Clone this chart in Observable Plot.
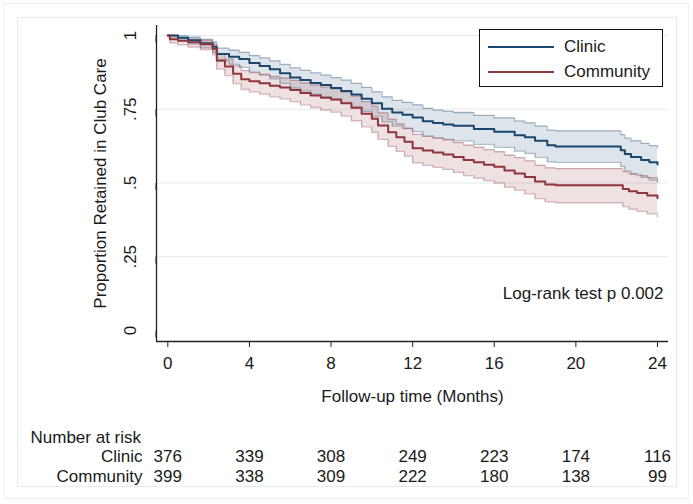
<!DOCTYPE html>
<html>
<head>
<meta charset="utf-8">
<script src="https://cdn.jsdelivr.net/npm/d3@7"></script>
<script src="https://cdn.jsdelivr.net/npm/@observablehq/plot@0.6"></script>
<style>
  html, body { margin: 0; padding: 0; background: #fff; }
  #wrap { position: relative; width: 693px; height: 504px; overflow: hidden; font-family: "Liberation Sans", Arial, sans-serif; color: #1a1a1a; }
  #outer { position: absolute; left: 3px; top: 3px; width: 686px; height: 496px; border: 1px solid #eef2f3; box-sizing: border-box; }
  #inner { position: absolute; left: 17px; top: 17px; width: 660px; height: 470px; border: 1px solid #e6ecee; box-sizing: border-box; }
  #chart { position: absolute; left: 0; top: 0; }
  #legend { position: absolute; left: 479px; top: 29px; width: 184px; height: 58px; border: 1px solid #111; box-sizing: border-box; background: #fff; }
  .lg-line { position: absolute; left: 8px; width: 66px; height: 2px; }
  .lg-text { position: absolute; left: 84px; font-size: 17px; line-height: 20px; }
</style>
</head>
<body>
<div id="wrap">
  <div id="outer"></div>
  <div id="inner"></div>
  <div id="chart"></div>
  <div id="legend"></div>
</div>
<script>
// ---- Data ----
const seriesNames = ["Clinic", "Community"];
const seriesColors = ["#1a476f", "#90353b"];

// Clinic Kaplan-Meier estimate with 95% CI (step points)
const clinicT  = [0, 0.5, 1.0, 1.6, 2.2, 2.4, 3.0, 3.5, 4.0, 4.5, 5.0, 5.5, 6.0, 6.5, 7.0, 7.5, 8.0, 8.5, 9.0, 9.5, 10.0, 10.5, 11.0, 11.5, 12.0, 12.5, 13.0, 13.5, 14.0, 15.0, 16.0, 17.0, 17.5, 18.0, 18.6, 19.0, 22.2, 22.4, 22.7, 23.2, 23.6, 24.0];
const clinicS  = [1, 0.992, 0.984, 0.974, 0.962, 0.937, 0.928, 0.920, 0.907, 0.897, 0.886, 0.872, 0.858, 0.849, 0.839, 0.832, 0.822, 0.812, 0.800, 0.786, 0.770, 0.752, 0.739, 0.731, 0.722, 0.709, 0.703, 0.698, 0.694, 0.683, 0.674, 0.662, 0.655, 0.643, 0.628, 0.624, 0.611, 0.598, 0.588, 0.578, 0.570, 0.563];
const clinicLo = [1, 0.982, 0.971, 0.958, 0.943, 0.913, 0.902, 0.892, 0.877, 0.866, 0.853, 0.838, 0.822, 0.812, 0.801, 0.793, 0.782, 0.771, 0.758, 0.743, 0.726, 0.707, 0.693, 0.684, 0.674, 0.660, 0.653, 0.648, 0.643, 0.631, 0.621, 0.608, 0.600, 0.587, 0.572, 0.570, 0.556, 0.541, 0.530, 0.519, 0.510, 0.502];
const clinicHi = [1, 0.999, 0.994, 0.987, 0.978, 0.957, 0.950, 0.943, 0.932, 0.924, 0.914, 0.902, 0.890, 0.882, 0.873, 0.866, 0.857, 0.849, 0.838, 0.824, 0.809, 0.792, 0.780, 0.773, 0.765, 0.753, 0.747, 0.743, 0.739, 0.729, 0.721, 0.710, 0.704, 0.693, 0.679, 0.677, 0.664, 0.652, 0.643, 0.634, 0.627, 0.619];

// Community Kaplan-Meier estimate with 95% CI (step points)
const commT  = [0, 0.1, 0.5, 1.0, 1.6, 2.2, 2.4, 2.8, 3.2, 3.6, 4.0, 4.5, 5.0, 5.5, 6.0, 6.5, 7.0, 7.5, 8.0, 8.5, 9.0, 9.5, 10.0, 10.3, 10.8, 11.2, 11.6, 12.0, 12.5, 13.0, 13.5, 14.0, 14.5, 15.0, 15.5, 16.0, 16.5, 17.0, 17.5, 18.0, 18.5, 19.0, 22.3, 22.6, 23.0, 23.5, 24.0];
const commS  = [1, 0.987, 0.982, 0.977, 0.970, 0.955, 0.915, 0.895, 0.870, 0.852, 0.845, 0.838, 0.830, 0.824, 0.815, 0.805, 0.797, 0.789, 0.783, 0.770, 0.755, 0.735, 0.718, 0.695, 0.672, 0.655, 0.640, 0.618, 0.610, 0.603, 0.597, 0.588, 0.578, 0.570, 0.562, 0.555, 0.542, 0.532, 0.520, 0.505, 0.495, 0.492, 0.480, 0.472, 0.466, 0.458, 0.448];
const commLo = [1, 0.975, 0.968, 0.961, 0.952, 0.934, 0.886, 0.864, 0.837, 0.817, 0.809, 0.801, 0.792, 0.785, 0.776, 0.765, 0.756, 0.747, 0.740, 0.727, 0.711, 0.690, 0.672, 0.648, 0.624, 0.607, 0.591, 0.568, 0.560, 0.553, 0.546, 0.536, 0.525, 0.517, 0.508, 0.500, 0.486, 0.476, 0.463, 0.447, 0.436, 0.433, 0.420, 0.411, 0.404, 0.395, 0.385];
const commHi = [1, 0.995, 0.992, 0.988, 0.983, 0.970, 0.937, 0.920, 0.897, 0.881, 0.874, 0.868, 0.861, 0.856, 0.848, 0.839, 0.832, 0.825, 0.819, 0.808, 0.795, 0.776, 0.760, 0.738, 0.716, 0.700, 0.686, 0.665, 0.658, 0.652, 0.646, 0.637, 0.628, 0.621, 0.613, 0.606, 0.594, 0.586, 0.575, 0.560, 0.551, 0.549, 0.538, 0.531, 0.525, 0.518, 0.508];

// Axes and number-at-risk table
const xTicks = [0, 4, 8, 12, 16, 20, 24];
const yTicks = [0, 0.25, 0.5, 0.75, 1];
const yTickLabels = ["0", ".25", ".5", ".75", "1"];
const riskTimes = [0, 4, 8, 12, 16, 20, 24];
const clinicRisk = [376, 339, 308, 249, 223, 174, 116];
const communityRisk = [399, 338, 309, 222, 180, 138, 99];
const xTitle = "Follow-up time (Months)";
const yTitle = "Proportion Retained in Club Care";
const testNote = "Log-rank test p 0.002";
const riskTitle = "Number at risk";

// ---- Build tables ----
const clinic = clinicT.map((t, i) => ({t, s: clinicS[i], lo: clinicLo[i], hi: clinicHi[i]}));
const community = commT.map((t, i) => ({t, s: commS[i], lo: commLo[i], hi: commHi[i]}));

const xDomain = [-0.554, 24.54];
const yDomain = [-0.0373, 1.0339];
const FS = 17;
const ink = "#1a1a1a";

const bandMarks = (data, color) => [
  Plot.areaY(data, {x: "t", y1: "lo", y2: "hi", curve: "step-after", fill: color, fillOpacity: 0.15}),
  Plot.line(data, {x: "t", y: "lo", curve: "step-after", stroke: color, strokeOpacity: 0.35, strokeWidth: 1.3}),
  Plot.line(data, {x: "t", y: "hi", curve: "step-after", stroke: color, strokeOpacity: 0.35, strokeWidth: 1.3})
];

const chart = Plot.plot({
  width: 693,
  height: 504,
  marginLeft: 156,
  marginRight: 25,
  marginTop: 25,
  marginBottom: 163,
  style: {fontFamily: "'Liberation Sans', Arial, sans-serif", fontSize: "17px", color: ink, background: "transparent"},
  x: {domain: xDomain},
  y: {domain: yDomain},
  marks: [
    Plot.gridY(yTicks.filter(d => d > 0), {stroke: "#e3eaed", strokeOpacity: 1, strokeWidth: 1}),
    ...bandMarks(clinic, seriesColors[0]),
    ...bandMarks(community, seriesColors[1]),
    Plot.line(clinic, {x: "t", y: "s", curve: "step-after", stroke: seriesColors[0], strokeWidth: 2}),
    Plot.line(community, {x: "t", y: "s", curve: "step-after", stroke: seriesColors[1], strokeWidth: 2}),
    Plot.ruleY([yDomain[0]], {stroke: "#222", strokeWidth: 1.3}),
    Plot.ruleX([xDomain[0]], {stroke: "#222", strokeWidth: 1.3}),
    Plot.axisX({ticks: xTicks, tickSize: 6, tickPadding: 9, fontSize: FS, label: null, stroke: "#222", fill: ink}),
    Plot.axisY({ticks: yTicks, tickFormat: d => yTickLabels[yTicks.indexOf(d)], tickSize: 7, tickPadding: 19,
                rotate: -90, textAnchor: "middle", fontSize: FS, label: null, stroke: "#222", fill: ink}),
    Plot.text([xTitle], {frameAnchor: "bottom", dy: 60, fontSize: FS, fill: ink}),
    Plot.text([yTitle], {frameAnchor: "left", dx: -56, rotate: -90, textAnchor: "middle", fontSize: FS, fill: ink}),
    Plot.text([testNote], {frameAnchor: "bottom-right", dx: -5, dy: -43, textAnchor: "end", fontSize: FS, fill: ink}),
    Plot.text([riskTitle], {frameAnchor: "bottom-left", dx: -126, dy: 101, textAnchor: "start", fontSize: FS, fill: ink}),
    Plot.text([seriesNames[0]], {frameAnchor: "bottom-left", dx: -14, dy: 120, textAnchor: "end", fontSize: FS, fill: ink}),
    Plot.text([seriesNames[1]], {frameAnchor: "bottom-left", dx: -14, dy: 140, textAnchor: "end", fontSize: FS, fill: ink}),
    Plot.text(riskTimes, {x: d => d, text: (d, i) => String(clinicRisk[i]), frameAnchor: "bottom", dy: 120, fontSize: FS, fill: ink}),
    Plot.text(riskTimes, {x: d => d, text: (d, i) => String(communityRisk[i]), frameAnchor: "bottom", dy: 140, fontSize: FS, fill: ink})
  ]
});
document.getElementById("chart").appendChild(chart);

// Legend
const legend = document.getElementById("legend");
seriesNames.forEach((name, i) => {
  const line = document.createElement("div");
  line.className = "lg-line";
  line.style.top = (16 + i * 25) + "px";
  line.style.background = seriesColors[i];
  legend.appendChild(line);
  const txt = document.createElement("div");
  txt.className = "lg-text";
  txt.style.top = (7 + i * 25) + "px";
  txt.textContent = name;
  legend.appendChild(txt);
});
</script>
</body>
</html>
